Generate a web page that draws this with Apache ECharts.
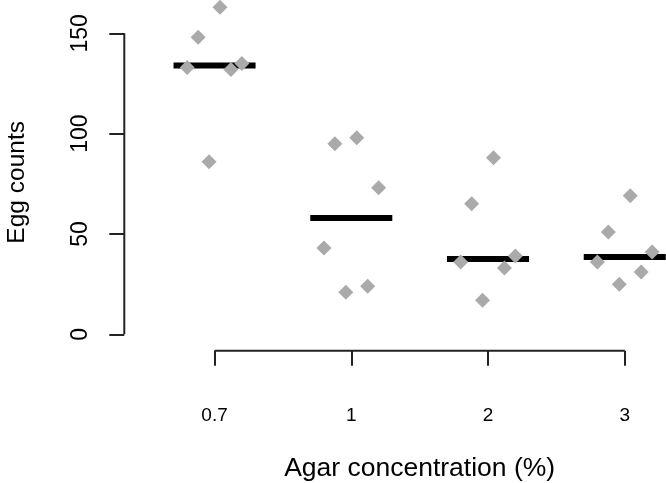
<!DOCTYPE html>
<html>
<head>
<meta charset="utf-8">
<script src="https://cdn.jsdelivr.net/npm/echarts@6/dist/echarts.min.js"></script>
<style>html,body{margin:0;padding:0;background:#fff;overflow:hidden}#c{width:666px;height:483px}</style>
</head>
<body>
<div id="c"></div>
<script>
// categories and tick labels
const categories = ['0.7', '1', '2', '3'];
const yTicks = [0, 50, 100, 150];
// egg counts per agar concentration
const counts07 = [163, 148, 133, 132, 135, 86];
const counts1 = [95, 98, 73, 43, 21, 24];
const counts2 = [88, 65, 36, 33, 39, 17];
const counts3 = [69, 51, 36, 31, 25, 41];
// horizontal jitter of each point (category units)
const jitter07 = [0.04, -0.12, -0.2, 0.12, 0.2, -0.04];
const jitter1 = [-0.12, 0.04, 0.2, -0.2, -0.04, 0.12];
const jitter2 = [0.04, -0.12, -0.2, 0.12, 0.2, -0.04];
const jitter3 = [0.04, -0.12, -0.2, 0.12, -0.04, 0.2];
// median of each group
const medians = [134, 58, 37.5, 38.5];

const groups = [counts07, counts1, counts2, counts3];
const jitters = [jitter07, jitter1, jitter2, jitter3];
const positions = categories.map((c, i) => i + 1);

const X_MIN = 0.34, X_MAX = 4.66;
const Y_MIN = -8.17, Y_MAX = 166.6;
const BAR_WIDTH = 0.6;

const points = [];
groups.forEach((g, gi) => g.forEach((v, k) => points.push([positions[gi] + jitters[gi][k], v])));
const medianData = medians.map((m, i) => [positions[i], m]);

const axisColor = '#222';
const fontFam = '"Liberation Sans", Arial, Helvetica, sans-serif';

const chart = echarts.init(document.getElementById('c'));
chart.setOption({
  animation: false,
  grid: { left: 124.3, right: -49, top: 0, bottom: 132.3, outerBoundsMode: 'none', containLabel: false },
  xAxis: {
    type: 'value', min: X_MIN, max: X_MAX,
    splitLine: { show: false },
    axisLine: { show: false, onZero: false },
    axisTick: { show: true, customValues: positions, length: 15, lineStyle: { color: axisColor, width: 2 } },
    axisLabel: {
      customValues: positions, margin: 56,
      formatter: v => categories[Math.round(v) - 1] || '',
      fontSize: 19, color: '#000', fontFamily: fontFam
    },
    name: 'Agar concentration (%)', nameLocation: 'middle', nameGap: 104,
    nameTextStyle: { fontSize: 26.5, color: '#000', fontFamily: fontFam }
  },
  yAxis: {
    type: 'value', min: Y_MIN, max: Y_MAX,
    splitLine: { show: false },
    axisLine: { show: false, onZero: false },
    axisTick: { show: true, customValues: yTicks, length: 15, lineStyle: { color: axisColor, width: 2 } },
    axisLabel: {
      customValues: yTicks, margin: 32, rotate: 90,
      fontSize: 23, color: '#000', fontFamily: fontFam
    },
    name: 'Egg counts', nameLocation: 'middle', nameGap: 95, nameRotate: 90,
    nameTextStyle: { fontSize: 24.5, color: '#000', fontFamily: fontFam, padding: [0, 14, 0, 0] }
  },
  series: [
    {
      type: 'line', data: [[X_MIN, yTicks[0]], [X_MIN, yTicks[yTicks.length - 1]]],
      symbol: 'none', clip: false, silent: true,
      lineStyle: { color: axisColor, width: 2 }
    },
    {
      type: 'line', data: [[positions[0], Y_MIN], [positions[positions.length - 1], Y_MIN]],
      symbol: 'none', clip: false, silent: true,
      lineStyle: { color: axisColor, width: 2 }
    },
    {
      type: 'custom', data: medianData, clip: false, z: 3,
      renderItem: (params, api) => {
        const c = api.coord([api.value(0), api.value(1)]);
        const w = api.size([BAR_WIDTH, 0])[0];
        return { type: 'rect', shape: { x: c[0] - w / 2, y: c[1] - 3, width: w, height: 6 }, style: { fill: '#000' } };
      }
    },
    {
      type: 'scatter', data: points, symbol: 'diamond', symbolSize: 15, z: 4,
      itemStyle: { color: '#aaaaaa', opacity: 1 }
    }
  ]
});
</script>
</body>
</html>
